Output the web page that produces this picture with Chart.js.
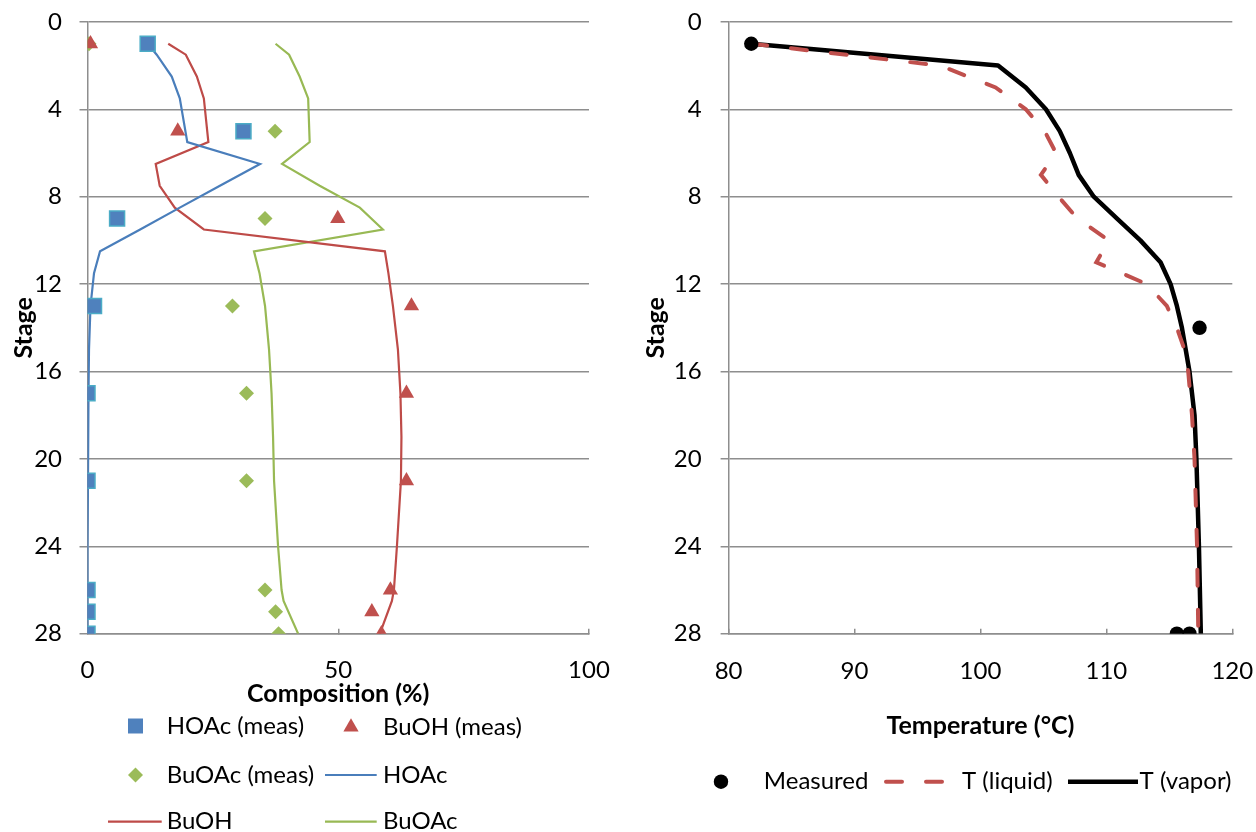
<!DOCTYPE html>
<html>
<head>
<meta charset="utf-8">
<script src="https://cdn.jsdelivr.net/npm/chart.js@4.4.1/dist/chart.umd.min.js"></script>
<style>
  html, body { margin: 0; background: #fff; overflow: hidden; }
  #wrap { position: relative; width: 1256px; height: 832px; overflow: hidden; }
  /* canvases reach a bit past the page so Chart.js auto padding never moves the plot areas */
  canvas { position: absolute; top: -40px; }
  #compChart { left: 0; }
  #tempChart { left: 640px; }
</style>
</head>
<body>
<div id="wrap">
  <canvas id="compChart" width="640" height="872"></canvas>
  <canvas id="tempChart" width="676" height="872"></canvas>
</div>
<script>
// measured compositions (%), by stage
const measStages = [1, 5, 9, 13, 17, 21, 26, 27, 28];
const hoacMeas  = [12.0, 31.1, 5.9, 1.3, 0, 0, 0, 0, 0];
const buohMeas  = [0.6, 18.0, 49.9, 64.6, 63.6, 63.6, 60.4, 56.7, 58.6];
const buoacMeas = [0.3, 37.4, 35.4, 28.9, 31.7, 31.7, 35.4, 37.5, 38.1];

// simulated composition profiles
const simStages = [1, 1.5, 2.5, 3.5, 5.5, 6.5, 7.5, 8.5, 9.5, 10.5, 11.5, 13, 15, 17, 19, 21, 24, 26, 26.5, 28];
const hoacSim  = [12.0, 13.8, 16.8, 18.4, 19.9, 34.4, 26.4, 18.4, 10.5, 2.5, 1.3, 0.6, 0.3, 0.2, 0.1, 0.1, 0, 0, 0, 0];
const buohSim  = [16.1, 19.6, 21.8, 23.2, 24.1, 13.6, 14.4, 17.4, 23.2, 59.3, 60.0, 60.9, 61.9, 62.4, 62.6, 62.5, 61.7, 61.1, 60.7, 58.3];
const buoacSim = [37.5, 40.2, 42.3, 44.0, 44.3, 38.8, 46.3, 54.3, 58.9, 33.2, 34.3, 35.4, 36.2, 36.7, 37.0, 37.2, 38.0, 38.7, 39.1, 42.0];

// temperatures (°C)
const tMeasStages = [1, 14, 28, 28];
const tMeas       = [81.8, 117.4, 115.6, 116.6];
const tStagesLiq  = [1, 2, 3, 4, 5, 6, 7, 8, 9, 10, 11, 12, 13, 14, 15, 16, 18, 20, 24, 28];
const tLiquid     = [81.8, 96.8, 101.2, 103.6, 105.1, 106.0, 104.8, 106.2, 107.7, 110.2, 109.2, 113.2, 114.8, 115.6, 116.2, 116.5, 116.8, 117.0, 117.2, 117.3];
const tStagesVap  = [1, 2, 3, 4, 5, 6, 7, 8, 9, 10, 11, 12, 13, 14, 15, 16, 17, 18, 20, 24, 28];
const tVapor      = [81.8, 101.4, 103.6, 105.2, 106.3, 107.1, 107.8, 109.0, 110.85, 112.7, 114.3, 115.1, 115.6, 116.0, 116.3, 116.6, 116.8, 117.0, 117.15, 117.35, 117.5];

const compTicks = [0, 50, 100];
const tempTicks = [80, 90, 100, 110, 120];
const stageTicks = [0, 4, 8, 12, 16, 20, 24, 28];

const pts = (xs, ys) => xs.map((x, i) => ({x: x, y: ys[i]}));

const FONT = "Lato, 'Open Sans', sans-serif";
Chart.defaults.font.family = FONT;
Chart.defaults.font.size = 24;
Chart.defaults.color = "#000";
const gridGrey = "#8e8e8e";

function drawShape(ctx, style, r, x, y) {
  ctx.beginPath();
  if (style === "rect") {
    const s = r * Math.SQRT1_2;
    ctx.rect(x - s, y - s, 2 * s, 2 * s);
  } else if (style === "triangle") {
    ctx.moveTo(x - Math.sin(Math.PI / 3) * r, y + r / 2);
    ctx.lineTo(x + Math.sin(Math.PI / 3) * r, y + r / 2);
    ctx.lineTo(x, y - r);
    ctx.closePath();
  } else if (style === "rectRot") {
    ctx.moveTo(x - r, y); ctx.lineTo(x, y - r); ctx.lineTo(x + r, y); ctx.lineTo(x, y + r);
    ctx.closePath();
  } else {
    ctx.arc(x, y, r, 0, Math.PI * 2);
  }
  ctx.fill();
}

// legend laid out like the spreadsheet one (grid of entries)
const placedLegend = {
  id: "placedLegend",
  afterDraw(chart, args, opts) {
    const ctx = chart.ctx;
    const dy = opts.shift || 0;
    ctx.save();
    ctx.font = "24px " + FONT;
    ctx.textBaseline = "middle";
    opts.entries.forEach(e => {
      const ds = chart.data.datasets[e.ds];
      const y = e.y + dy;
      ctx.save();
      if (e.line) {
        ctx.strokeStyle = ds.borderColor;
        ctx.lineWidth = ds.borderWidth;
        ctx.setLineDash(ds.borderDash || []);
        ctx.lineCap = ds.borderCapStyle || "butt";
        ctx.beginPath();
        ctx.moveTo(e.line[0], y);
        ctx.lineTo(e.line[1], y);
        ctx.stroke();
      } else {
        ctx.fillStyle = ds.backgroundColor;
        drawShape(ctx, ds.pointStyle, ds.pointRadius, e.x, y);
      }
      ctx.restore();
      ctx.fillStyle = "#000";
      ctx.fillText(ds.label, e.tx, y);
    });
    ctx.restore();
  }
};

function xAxis(min, max, ticks, title, height, pad) {
  return {
    type: "linear", position: "bottom", min: min, max: max,
    afterBuildTicks: s => { s.ticks = ticks.map(v => ({value: v})); },
    afterFit: s => { s.height = height; },
    ticks: {padding: pad, color: "#000"},
    grid: {drawOnChartArea: false, drawTicks: true, tickLength: -5, color: gridGrey, lineWidth: 1.5},
    border: {color: gridGrey, width: 1.5},
    title: {display: true, text: title, font: {weight: "bold", size: 25}, padding: {top: 0, bottom: 0}}
  };
}

function yAxis(width, tickPad, titlePad) {
  return {
    type: "linear", reverse: true, min: 0, max: 28,
    afterBuildTicks: s => { s.ticks = stageTicks.map(v => ({value: v})); },
    afterFit: s => { s.width = width; },
    ticks: {padding: tickPad, color: "#000"},
    grid: {color: gridGrey, lineWidth: 1.5, tickLength: 8},
    border: {color: gridGrey, width: 1.5},
    title: {display: true, text: "Stage", font: {weight: "bold", size: 25}, padding: {top: titlePad, bottom: 0}}
  };
}

new Chart(document.getElementById("compChart"), {
  type: "scatter",
  data: {
    datasets: [
      {label: "HOAc (meas)", data: pts(hoacMeas, measStages), pointStyle: "rect", pointRadius: 10.6,
       backgroundColor: "#4F81BD", borderColor: "#4BACC6", borderWidth: 1.5},
      {label: "BuOH (meas)", data: pts(buohMeas, measStages), pointStyle: "triangle", pointRadius: 8.8,
       backgroundColor: "#C0504D", borderColor: "#C0504D", borderWidth: 0},
      {label: "BuOAc (meas)", data: pts(buoacMeas, measStages), pointStyle: "rectRot", pointRadius: 7.5,
       backgroundColor: "#9BBB59", borderColor: "#9BBB59", borderWidth: 0},
      {label: "HOAc", data: pts(hoacSim, simStages), showLine: true, pointRadius: 0,
       borderColor: "#4A7EBB", borderWidth: 2.2, tension: 0},
      {label: "BuOH", data: pts(buohSim, simStages), showLine: true, pointRadius: 0,
       borderColor: "#BE4B48", borderWidth: 2.2, tension: 0},
      {label: "BuOAc", data: pts(buoacSim, simStages), showLine: true, pointRadius: 0,
       borderColor: "#98B954", borderWidth: 2.2, tension: 0}
    ]
  },
  options: {
    responsive: false, animation: false, devicePixelRatio: 1,
    layout: {padding: {top: 61.9, left: 0, right: 51, bottom: 122.6}},
    scales: {
      x: xAxis(0, 100, compTicks, "Composition (%)", 75.7, 26.9),
      y: yAxis(87.5, 17.5, 8.9)
    },
    plugins: {
      legend: {display: false},
      tooltip: {enabled: false},
      placedLegend: {shift: 40, entries: [
        {ds: 0, x: 135.5, tx: 166.7, y: 726},
        {ds: 1, x: 351, tx: 383, y: 727},
        {ds: 2, x: 135.5, tx: 166.7, y: 775},
        {ds: 3, line: [325, 376.7], tx: 383, y: 775},
        {ds: 4, line: [108, 161.7], tx: 166.7, y: 821.7},
        {ds: 5, line: [325, 376.7], tx: 383, y: 821.7}
      ]}
    }
  },
  plugins: [placedLegend]
});

new Chart(document.getElementById("tempChart"), {
  type: "scatter",
  data: {
    datasets: [
      {label: "Measured", data: pts(tMeas, tMeasStages), pointStyle: "circle", pointRadius: 7.2,
       backgroundColor: "#000", borderColor: "#000", borderWidth: 0},
      {label: "T (liquid)", data: pts(tLiquid, tStagesLiq), showLine: true, pointRadius: 0,
       borderColor: "#C0504D", borderWidth: 4, borderDash: [16, 24], borderCapStyle: "round", tension: 0},
      {label: "T (vapor)", data: pts(tVapor, tStagesVap), showLine: true, pointRadius: 0,
       borderColor: "#000", borderWidth: 4.5, borderJoinStyle: "round", tension: 0}
    ]
  },
  options: {
    responsive: false, animation: false, devicePixelRatio: 1,
    layout: {padding: {top: 61.9, left: 0, right: 83.7, bottom: 90.6}},
    scales: {
      x: xAxis(80, 120, tempTicks, "Temperature (°C)", 107.7, 27.9),
      y: yAxis(88.6, 18.9, 1.3)
    },
    plugins: {
      legend: {display: false},
      tooltip: {enabled: false},
      placedLegend: {shift: 40, entries: [
        {ds: 0, x: 81, tx: 123.8, y: 781.7},
        {ds: 1, line: [246, 302.7], tx: 322, y: 781.7},
        {ds: 2, line: [428, 498], tx: 499.6, y: 781.7}
      ]}
    }
  },
  plugins: [placedLegend]
});
</script>
</body>
</html>
